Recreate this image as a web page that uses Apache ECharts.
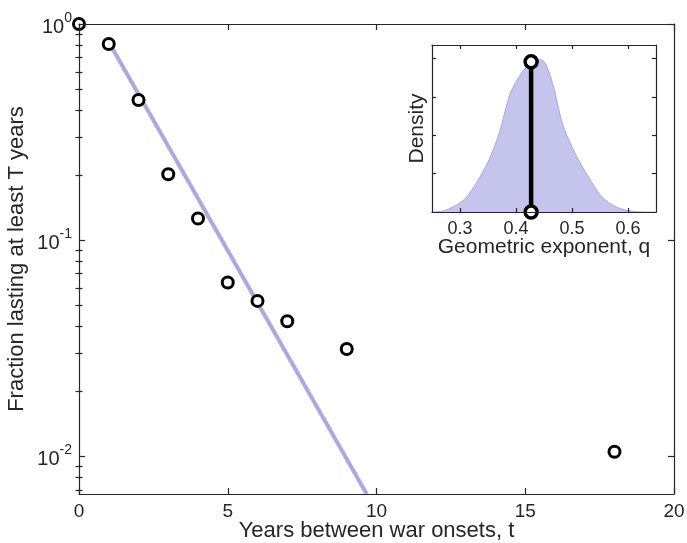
<!DOCTYPE html>
<html>
<head>
<meta charset="utf-8">
<script src="https://cdn.jsdelivr.net/npm/echarts@6/dist/echarts.min.js"></script>
<style>
html,body{margin:0;padding:0;background:#fff;}
#chart{width:687px;height:543px;}
</style>
</head>
<body>
<div id="chart"></div>
<script>
// ---- Main panel data ----
var yearsT = [0, 1, 2, 3, 4, 5, 6, 7, 9, 18];
var fractionLasting = [1, 0.808, 0.445, 0.202, 0.126, 0.0637, 0.0524, 0.0422, 0.0314, 0.0105];
var fitT = [1, 9.67];
var fitFraction = [0.826, 0.0067];
var xTicksMain = [0, 5, 10, 15, 20];
var yMajorTicks = [0.01, 0.1, 1];
var yMinorTicks = [0.007, 0.008, 0.009, 0.02, 0.03, 0.04, 0.05, 0.06, 0.07, 0.08, 0.09, 0.2, 0.3, 0.4, 0.5, 0.6, 0.7, 0.8, 0.9];

// ---- Inset data ----
var insetQ = [0.25, 0.27, 0.29, 0.31, 0.33, 0.35, 0.37, 0.39, 0.41, 0.42, 0.43, 0.44, 0.45, 0.46, 0.47, 0.48, 0.49, 0.51, 0.53, 0.55, 0.57, 0.59, 0.61, 0.63, 0.65];
var insetDensity = [0, 0.05, 0.3, 0.72, 1.55, 2.6, 4.1, 6.2, 7.25, 7.62, 7.85, 7.95, 7.85, 7.2, 6.2, 4.9, 4.05, 2.8, 1.8, 0.9, 0.4, 0.14, 0.03, 0, 0];
var qEstimate = [0.427];
var qEstimateDensity = [7.83];
var insetXTicks = [0.3, 0.4, 0.5, 0.6];
var insetYTicks = [2, 4, 6, 8];

var textColor = '#262626';
var axisColor = '#262626';
var font = 'Liberation Sans, Arial, Helvetica, sans-serif';

function zip(a, b) { return a.map(function (v, i) { return [v, b[i]]; }); }

function boxAxis(extra) {
  var base = {
    z: 10,
    nameMoveOverlap: false,
    axisLine: { show: true, onZero: false, lineStyle: { color: axisColor, width: 1.2 } },
    splitLine: { show: false },
    axisTick: { show: true, inside: true, length: 6, lineStyle: { color: axisColor, width: 1.2 } },
    axisLabel: { show: false }
  };
  return Object.assign(base, extra);
}

var yMin = 0.0067;

var option = {
  animation: false,
  backgroundColor: '#fff',
  textStyle: { fontFamily: font },
  grid: [
    { left: 79, top: 24, right: 13, bottom: 49, outerBoundsMode: 'none', containLabel: false },
    { left: 432, top: 45, width: 224, height: 167, show: true, backgroundColor: '#fff', borderWidth: 0,
      outerBoundsMode: 'none', containLabel: false }
  ],
  xAxis: [
    boxAxis({
      type: 'value', gridIndex: 0, position: 'bottom', min: 0, max: 20, interval: 5,
      axisLabel: { show: true, fontSize: 19, color: textColor, margin: 8, fontFamily: font },
      name: 'Years between war onsets, t', nameLocation: 'middle', nameGap: 26,
      nameTextStyle: { fontSize: 22, color: textColor, fontFamily: font }
    }),
    boxAxis({ type: 'value', gridIndex: 0, position: 'top', min: 0, max: 20, interval: 5 }),
    boxAxis({
      type: 'value', gridIndex: 1, position: 'bottom', min: 0.25, max: 0.65,
      axisTick: { show: true, inside: true, length: 4, customValues: insetXTicks, lineStyle: { color: axisColor, width: 1.2 } },
      axisLabel: { show: true, customValues: insetXTicks, fontSize: 18, color: textColor, margin: 8, fontFamily: font,
        formatter: function (v) { return v.toFixed(1); } },
      name: 'Geometric exponent, q', nameLocation: 'middle', nameGap: 25,
      nameTextStyle: { fontSize: 21, color: textColor, fontFamily: font }
    }),
    boxAxis({
      type: 'value', gridIndex: 1, position: 'top', min: 0.25, max: 0.65,
      axisTick: { show: true, inside: true, length: 4, customValues: insetXTicks, lineStyle: { color: axisColor, width: 1.2 } }
    })
  ],
  yAxis: [
    boxAxis({
      type: 'log', logBase: 10, gridIndex: 0, position: 'left', min: yMin, max: 1,
      axisTick: { show: true, inside: true, length: 6, customValues: yMajorTicks, lineStyle: { color: axisColor, width: 1.2 } },
      axisLabel: {
        show: true, customValues: yMajorTicks, margin: 7, color: textColor, fontFamily: font,
        formatter: function (v) {
          var e = Math.round(Math.log(v) / Math.LN10);
          return '{b|10}{s|' + e + '}';
        },
        rich: {
          b: { fontSize: 20, color: textColor, fontFamily: font, padding: [6, 0, 0, 0] },
          s: { fontSize: 14, color: textColor, fontFamily: font, verticalAlign: 'top', padding: [0, 0, 10, 0] }
        }
      },
      name: 'Fraction lasting at least T years', nameLocation: 'middle', nameGap: 51,
      nameTextStyle: { fontSize: 22, color: textColor, fontFamily: font }
    }),
    boxAxis({
      type: 'log', logBase: 10, gridIndex: 0, position: 'left', min: yMin, max: 1,
      axisLine: { show: false },
      axisTick: { show: true, inside: true, length: 3.5, customValues: yMinorTicks, lineStyle: { color: axisColor, width: 1.2 } }
    }),
    boxAxis({
      type: 'log', logBase: 10, gridIndex: 0, position: 'right', min: yMin, max: 1,
      axisTick: { show: true, inside: true, length: 6, customValues: yMajorTicks, lineStyle: { color: axisColor, width: 1.2 } }
    }),
    boxAxis({
      type: 'log', logBase: 10, gridIndex: 0, position: 'right', min: yMin, max: 1,
      axisLine: { show: false },
      axisTick: { show: true, inside: true, length: 3.5, customValues: yMinorTicks, lineStyle: { color: axisColor, width: 1.2 } }
    }),
    boxAxis({
      type: 'value', gridIndex: 1, position: 'left', min: 0, max: 8.7,
      axisTick: { show: true, inside: true, length: 4, customValues: insetYTicks, lineStyle: { color: axisColor, width: 1.2 } },
      name: 'Density', nameLocation: 'middle', nameGap: 4,
      nameTextStyle: { fontSize: 21, color: textColor, fontFamily: font }
    }),
    boxAxis({
      type: 'value', gridIndex: 1, position: 'right', min: 0, max: 8.7,
      axisTick: { show: true, inside: true, length: 4, customValues: insetYTicks, lineStyle: { color: axisColor, width: 1.2 } }
    })
  ],
  series: [
    {
      type: 'line', xAxisIndex: 0, yAxisIndex: 0,
      data: zip(fitT, fitFraction),
      showSymbol: false, symbol: 'none',
      lineStyle: { color: '#aaaadf', width: 4 },
      z: 2
    },
    {
      type: 'scatter', xAxisIndex: 0, yAxisIndex: 0,
      data: zip(yearsT, fractionLasting),
      symbol: 'circle', symbolSize: 11, clip: false,
      itemStyle: { color: '#fff', borderColor: '#000', borderWidth: 3, opacity: 1 },
      z: 3
    },
    {
      type: 'line', xAxisIndex: 2, yAxisIndex: 4,
      data: zip(insetQ, insetDensity),
      smooth: 0.25, showSymbol: false, symbol: 'none',
      lineStyle: { color: '#a8a8e0', width: 1 },
      areaStyle: { color: '#c4c4ec', opacity: 1 },
      z: 6
    },
    {
      type: 'line', xAxisIndex: 2, yAxisIndex: 4,
      data: [[qEstimate[0], 0], [qEstimate[0], qEstimateDensity[0]]],
      symbol: 'circle', symbolSize: 12, showSymbol: true, clip: false,
      lineStyle: { color: '#000', width: 4.5 },
      itemStyle: { color: '#fff', borderColor: '#000', borderWidth: 3.5 },
      z: 7
    }
  ]
};

var chart = echarts.init(document.getElementById('chart'), null, { renderer: 'canvas' });
chart.setOption(option);
</script>
</body>
</html>
